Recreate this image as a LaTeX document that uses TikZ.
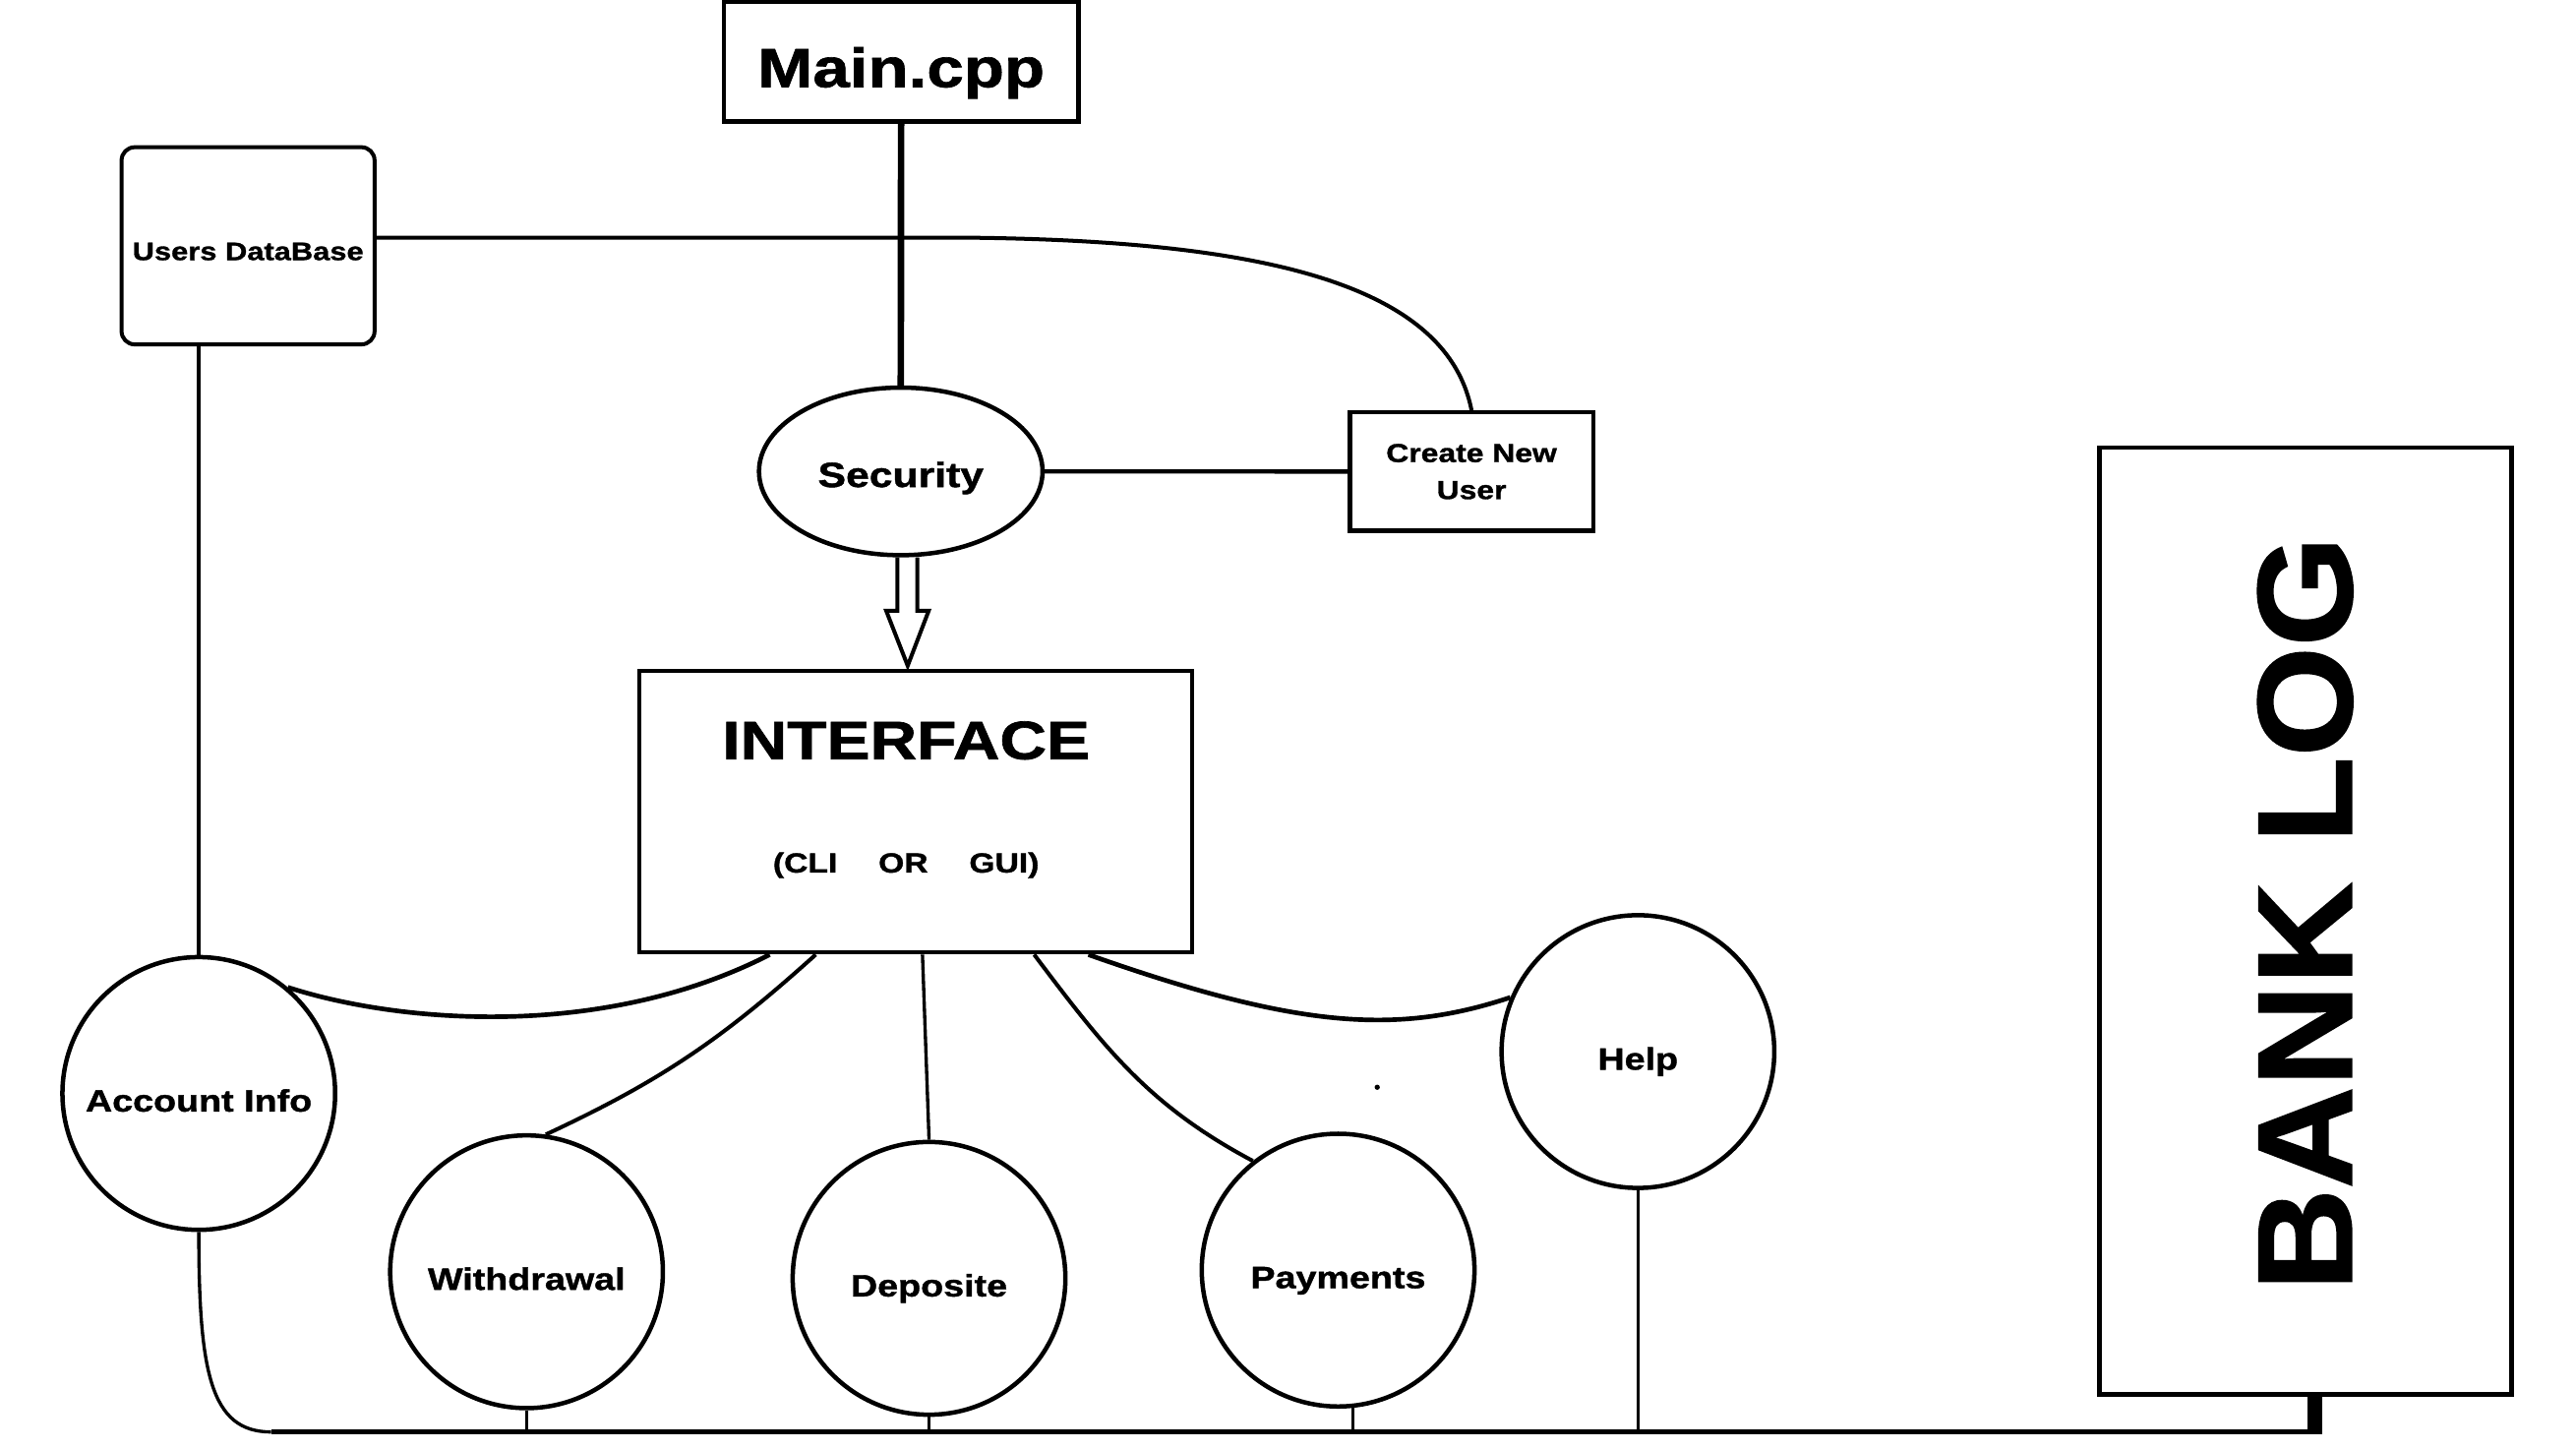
\documentclass[tikz,border=0pt]{standalone}
\usepackage{fontspec}
\setmainfont{Liberation Sans}[FakeStretch=1.2, BoldFeatures={FakeBold=1.2}]
\newfontfamily\logfont{Liberation Sans}[FakeStretch=1.05, BoldFeatures={FakeBold=1.2}]
\usepackage{tikz}
\usetikzlibrary{calc}
\usetikzlibrary{positioning}
\usetikzlibrary{shapes.geometric}
\tikzset{
	box/.style={draw, line width=2.6pt, inner sep=0pt},
	bubble/.style={draw, circle, line width=2.7pt, minimum size=166pt, inner sep=0pt,
		font=\fontsize{18.8}{22}\bfseries, text height=22pt, text depth=0pt},
	link/.style={line width=2.4pt},
	thinlink/.style={line width=2pt},
	bus/.style={line width=3pt}
}

\begin{document}
\begin{tikzpicture}[x=1pt, y=-1pt]
\useasboundingbox (0,0) rectangle (1568,882);

       \node[box, minimum width=216pt, minimum height=73pt, text height=31pt, text depth=0pt,
             font=\fontsize{33.6}{40}\bfseries] (main) at (548.5,37.5) {Main.cpp};

       \node[box, rounded corners=8pt, line width=2.4pt, minimum width=154pt, minimum height=120pt,
             text height=17.4pt, text depth=0pt, font=\fontsize{15.4}{18}\bfseries] (usersdb) at (151,149.6) {Users DataBase};

       \node[draw, ellipse, line width=2.7pt, minimum width=172.6pt, minimum height=102pt, inner sep=0pt,
             text height=19pt, text depth=0pt, font=\fontsize{21.3}{24}\bfseries] (security) at (548.3,286.9) {Security};

       \node[box, minimum width=148pt, minimum height=72pt, align=center,
             font=\fontsize{15.9}{22.5}\bfseries] (newuser) at (895.7,287) {Create New\\User};

       \node[box, minimum width=336.4pt, minimum height=171.2pt] (interface) at (557.5,494.1) {};
       \node[anchor=base, font=\fontsize{32.9}{36}\bfseries] (iftitle) at ($(interface.north)+(-6,54.8)$) {INTERFACE};
       \node[anchor=base, font=\fontsize{16.8}{20}\bfseries] (ifmode) at ($(interface.north)+(-6,123.8)$) {(CLI\hspace{25pt}OR\hspace{25pt}GUI)};

       \node[bubble] (account) at (121,665.5) {Account Info};
       \node[bubble] (withdraw) at (320.5,774) {Withdrawal};
       \node[bubble] (deposit) at (565.5,778) {Deposite};
       \node[bubble] (payment) at (814.5,773) {Payments};
       \node[bubble] (help) at (997,640) {Help};

       \node[box, minimum width=250.8pt, minimum height=576.4pt] (banklog) at (1403.4,560.5) {};
       \node[rotate=90, anchor=base, font=\logfont\fontsize{82}{90}\bfseries] (logtitle) at ($(banklog.center)+(28,-4.5)$) {BANK LOG};

       \draw[line width=4pt] (main.south) -- (security.north);
       \draw[line width=2.6pt] (security.east) -- (newuser.west);
       \draw[line width=2.4pt] ($(usersdb.east)+(0,-5)$) -- (584,144.6) .. controls (760,146) and (880,170) .. (newuser.north);

       % hollow arrow into the interface
       \draw[link] ($(security.south)+(-2,0)$) -- ++(0,32.4) -- ++(-6.9,0) -- ($(interface.north)+(-5,-2)$)
             -- ++(12.8,-33.5) -- ++(-6.9,0) -- ++(0,-32.4);

       \draw[thinlink] (usersdb.south -| account.north) -- (account.north);

       \draw[line width=2.8pt] (account.50) .. controls (240,622) and (365,634) .. ($(interface.south)+(-89,0)$);
       \draw[link] ($(interface.south)+(-61,0)$) to[out=-138, in=25] (withdraw.82);
       \draw[thinlink] ($(interface.south)+(4,0)$) -- (deposit.north);
       \draw[link] ($(interface.south)+(72,0)$) to[out=-53, in=152] (payment.128);
       \draw[line width=2.8pt] ($(interface.south)+(105,0)$) .. controls (790,626) and (850,630) .. (help.157);

       \fill (838.3,661.7) circle (1.6pt);

       \coordinate (busl) at (165,871.5);
       \coordinate (busr) at (1409.2,871.5);
       \draw[thinlink] (account.south) .. controls (121,835) and (128,871.5) .. (busl);
       \draw[bus] (busl) -- (busr);
       \draw[line width=9pt] ($(banklog.south)+(5.8,0)$) -- ($(busr)+(0,1.5)$);

       \draw[thinlink] (withdraw.south) -- (withdraw.south |- busl);
       \draw[thinlink] (deposit.south) -- (deposit.south |- busl);
       \draw[thinlink] (payment.-84) -- (payment.-84 |- busl);
       \draw[thinlink] (help.south) -- (help.south |- busl);
\end{tikzpicture}
\end{document}
